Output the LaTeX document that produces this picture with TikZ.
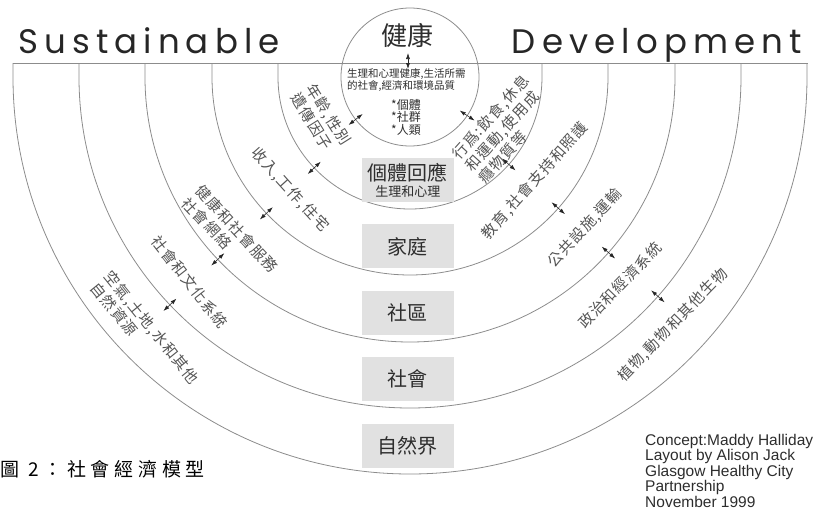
\documentclass[tikz,border=0pt]{standalone}
\usepackage{fontspec}
\usetikzlibrary{arrows.meta,positioning}
\newfontfamily\cjk{Noto Sans CJK TC}
\newfontfamily\cjkwide[LetterSpace=8]{Noto Sans CJK TC}
\newfontfamily\cjkcap[LetterSpace=25]{Noto Sans CJK TC}
\newfontfamily\geo[LetterSpace=18]{Poppins}
\newfontfamily\arial{Liberation Sans}
\newcommand{\fsz}[2]{\fontsize{#1}{#2}\selectfont}
\definecolor{arcgray}{RGB}{140,140,140}
\definecolor{txtgray}{RGB}{85,85,85}
\definecolor{boxgray}{RGB}{225,225,225}
\definecolor{boxtext}{RGB}{45,45,45}

\begin{document}
\begin{tikzpicture}[x=1pt,y=1pt,
    ring/.style={draw=arcgray,line width=0.8pt},
    ringtext/.style={font=\cjkwide\fsz{15}{18},text=txtgray,align=left,inner sep=0pt},
    tick/.style={{Latex[length=6pt,width=4pt]}-{Latex[length=6pt,width=4pt]},line width=0.6pt,draw=black!85},
    levelbox/.style={fill=boxgray,minimum width=92pt,minimum height=44pt,inner sep=0pt,text=boxtext,font=\cjk\fsz{20}{20}}]
  % 边界
  \useasboundingbox (-410,-438) rectangle (410,77);
  % 水平线
  \draw[ring] (-397,14) -- (398,14);
  % 五层半圆
  \foreach \rad in {132,198,265,331,397}
    \draw[ring] (-\rad,14) -- (-\rad,0) arc[start angle=180,end angle=360,radius=\rad] -- (\rad,14);
  % 健康圆
  \draw[ring] (0,0) circle[radius=69];
  % 标题
  \node[font=\geo\fsz{34}{34},anchor=base west,inner sep=0pt,text=black!85] (sust) at (-392,24) {Sustainable};
  \node[font=\geo\fsz{34}{34},anchor=base east,inner sep=0pt,text=black!85] (dev) at (392,24) {Development};
  % 圆内文字
  \node[font=\cjk\fsz{26}{28},text=boxtext] (health) at (-2,42) {健康};
  \node[font=\cjk\fsz{10.5}{12},align=left,anchor=north west,inner sep=0pt,text=boxtext] (quality) at (-63,9) {生理和心理健康,生活所需\\的社會,經濟和環境品質};
  \node[font=\cjk\fsz{12}{12.5},align=left,inner sep=0pt,text=boxtext] (scope) at (-4,-40) {*個體\\*社群\\*人類};
  % 各层方框
  \node[levelbox,align=center] (person) at (-2,-103) {個體回應\\[-4pt]{\fsz{13}{14}生理和心理}};
  \node[levelbox] (family) [below=22pt of person] {家庭};
  \node[levelbox] (community) [below=22pt of family] {社區};
  \node[levelbox] (society) [below=22pt of community] {社會};
  \node[levelbox] (nature) [below=22pt of society] {自然界};
  % 左侧文字
  \node[ringtext,rotate=-58] (geneL) at (-89,-42) {年齡,性別\\遺傳因子};
  \node[ringtext,rotate=-48] (incomeL) at (-120,-113) {收入,工作,住宅};
  \node[ringtext,rotate=-47] (serviceL) at (-180,-158) {健康和社會服務\\社會網絡};
  \node[ringtext,rotate=-52] (cultureL) at (-220,-205) {社會和文化系統};
  \node[ringtext,rotate=-51] (airL) at (-265,-256) {空氣,土地,水和其他\\自然資源};
  % 右侧文字
  \node[ringtext,rotate=48] (lifeR) at (94,-52) {行爲:飲食,休息\\和運動,使用成\\癮物質等};
  \node[ringtext,rotate=48] (eduR) at (125,-104) {教育,社會支持和照護};
  \node[ringtext,rotate=47] (publicR) at (175,-151) {公共設施,運輸};
  \node[ringtext,rotate=46] (politicR) at (210,-208) {政治和經濟系統};
  \node[ringtext,rotate=46] (plantR) at (263,-248) {植物,動物和其他生物};
  % 双向箭头
  \draw[tick] (-2,24) -- (-2,8);
  \draw[tick] (-142:60) -- (-142:78);
  \draw[tick] (-34:60) -- (-34:78);
  \foreach \rad in {132,198,265,331}{
    \draw[tick] (-136.5:\rad-9) -- (-136.5:\rad+9);
    \draw[tick] (-41.5:\rad-9) -- (-41.5:\rad+9);
  }
  % 署名
  \node[font=\arial\fsz{15.5}{15.5},align=left,anchor=north west,inner sep=0pt,text=boxtext] (credit) at (235,-357) {Concept:Maddy Halliday\\Layout by Alison Jack\\Glasgow Healthy City\\Partnership\\November 1999};
  % 图题
  \node[font=\cjkcap\fsz{19}{19},anchor=base west,inner sep=0pt] (caption) at (-410,-399) {圖 2：社會經濟模型};
\end{tikzpicture}
\end{document}
